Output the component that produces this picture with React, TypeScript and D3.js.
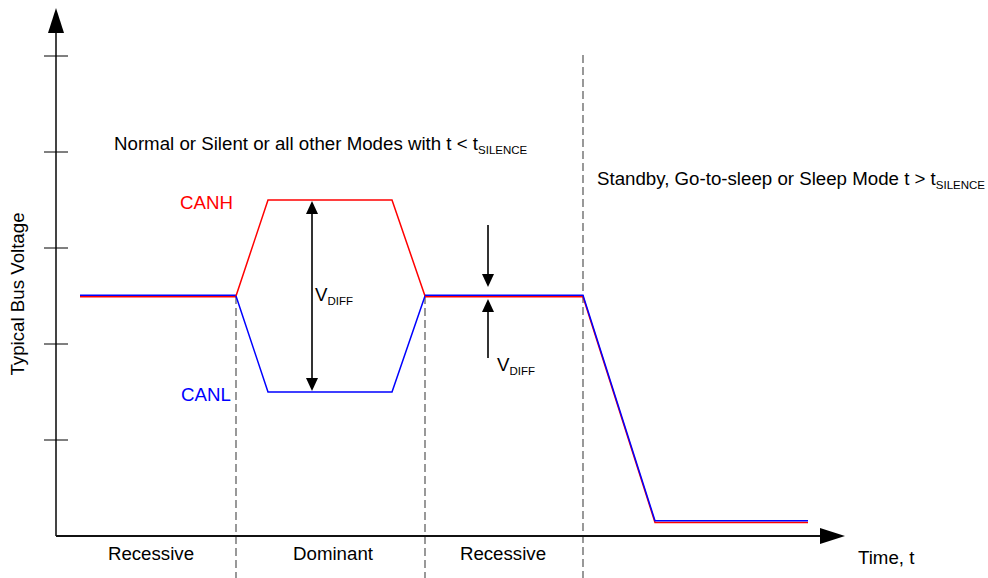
import { useRef, useEffect } from "react";
import * as d3 from "d3";

// time in arbitrary units, voltage in volts
const recessiveLeft = [
  { t: 0.24, v: 2.5 },
  { t: 1.8, v: 2.5 },
];
const canhDominant = [
  { t: 1.8, v: 2.5 },
  { t: 2.12, v: 3.5 },
  { t: 3.36, v: 3.5 },
  { t: 3.69, v: 2.5 },
];
const canlDominant = [
  { t: 1.8, v: 2.5 },
  { t: 2.12, v: 1.5 },
  { t: 3.36, v: 1.5 },
  { t: 3.69, v: 2.5 },
];
const recessiveTail = [
  { t: 3.69, v: 2.5 },
  { t: 5.27, v: 2.5 },
  { t: 5.99, v: 0.15 },
  { t: 7.52, v: 0.15 },
];
const yTicks = [1, 2, 3, 4, 5];
const boundaries = [1.8, 3.69, 5.27];
const phaseLabels = [
  { name: "Recessive", t: 0.95 },
  { name: "Dominant", t: 2.77 },
  { name: "Recessive", t: 4.47 },
];

const App = () => {
  const svgRef = useRef(null);

  useEffect(() => {
    document.body.style.margin = "0";
    const svg = d3.select(svgRef.current);
    svg.selectAll("*").remove();

    const width = 988;
    const height = 578;
    const font = "'Liberation Sans', Arial, sans-serif";
    const fs = 18.7;

    const x = d3.scaleLinear().domain([0, 7.89]).range([56, 845]);
    const y = d3.scaleLinear().domain([0, 5]).range([536, 56]);

    svg.attr("width", width).attr("height", height);

    // dashed phase boundaries
    boundaries.forEach((b, i) => {
      svg
        .append("line")
        .attr("x1", x(b))
        .attr("x2", x(b))
        .attr("y1", i === 2 ? 55 : y(2.5))
        .attr("y2", height)
        .attr("stroke", "#555")
        .attr("stroke-width", 1.2)
        .attr("stroke-dasharray", "8,4");
    });

    // y axis
    svg
      .append("line")
      .attr("x1", x(0))
      .attr("x2", x(0))
      .attr("y1", 30)
      .attr("y2", y(0))
      .attr("stroke", "#444")
      .attr("stroke-width", 2);
    svg
      .append("path")
      .attr("d", `M${x(0)},8 L${x(0) - 8},33 L${x(0) + 8},33 Z`)
      .attr("fill", "#000");
    svg
      .selectAll(".ytick")
      .data(yTicks)
      .enter()
      .append("line")
      .attr("x1", x(0) - 12)
      .attr("x2", x(0) + 12)
      .attr("y1", (d) => y(d))
      .attr("y2", (d) => y(d))
      .attr("stroke", "#000")
      .attr("stroke-width", 1);

    // x axis
    svg
      .append("line")
      .attr("x1", x(0))
      .attr("x2", 822)
      .attr("y1", y(0))
      .attr("y2", y(0))
      .attr("stroke", "#111")
      .attr("stroke-width", 2);
    svg
      .append("path")
      .attr("d", `M${x(7.89)},${y(0)} L${x(7.89) - 25},${y(0) - 8} L${x(7.89) - 25},${y(0) + 8} Z`)
      .attr("fill", "#000");

    const line = d3
      .line()
      .x((d) => x(d.t))
      .y((d) => y(d.v));

    const drawSig = (pts, color, dy) => {
      svg
        .append("path")
        .attr("d", line(pts))
        .attr("transform", `translate(0,${dy})`)
        .attr("fill", "none")
        .attr("stroke", color)
        .attr("stroke-width", 1.5)
        .attr("stroke-linejoin", "miter");
    };
    drawSig(recessiveLeft, "#ff0000", 0.8);
    drawSig(recessiveLeft, "#0000ff", -0.8);
    drawSig(canhDominant, "#ff0000", 0);
    drawSig(canlDominant, "#0000ff", 0);
    drawSig(recessiveTail, "#ff0000", 0.8);
    drawSig(recessiveTail, "#0000ff", -0.8);

    // arrows
    const ah = 13;
    const aw = 6;
    const arrowHead = (ax, tipY, dir) =>
      svg
        .append("path")
        .attr(
          "d",
          `M${ax},${tipY} L${ax - aw},${tipY + dir * ah} L${ax + aw},${tipY + dir * ah} Z`
        )
        .attr("fill", "#000");
    const vline = (ax, y1, y2) =>
      svg
        .append("line")
        .attr("x1", ax)
        .attr("x2", ax)
        .attr("y1", y1)
        .attr("y2", y2)
        .attr("stroke", "#333")
        .attr("stroke-width", 2);

    const ax1 = 312;
    vline(ax1, y(3.5) + ah, y(1.5) - ah);
    arrowHead(ax1, y(3.5) + 1, 1);
    arrowHead(ax1, y(1.5) - 1, -1);

    const ax2 = 488;
    vline(ax2, 225, y(2.5) - 14);
    arrowHead(ax2, y(2.5) - 9, -1);
    vline(ax2, y(2.5) + 14, 358);
    arrowHead(ax2, y(2.5) + 3, 1);

    const subText = (tx, ty, main, sub, color) => {
      const t = svg
        .append("text")
        .attr("x", tx)
        .attr("y", ty)
        .attr("font-family", font)
        .attr("font-size", fs)
        .attr("fill", color);
      t.append("tspan").text(main);
      t.append("tspan")
        .attr("font-size", 11.5)
        .attr("dy", 4)
        .text(sub);
      return t;
    };

    subText(315, 301, "V", "DIFF", "#000");
    subText(497, 371, "V", "DIFF", "#000");
    subText(114, 150, "Normal or Silent or all other Modes with t < t", "SILENCE", "#000");
    subText(597, 185, "Standby, Go-to-sleep or Sleep Mode t > t", "SILENCE", "#000");

    svg
      .append("text")
      .attr("x", 180)
      .attr("y", 209)
      .attr("font-family", font)
      .attr("font-size", fs)
      .attr("fill", "#ff0000")
      .text("CANH");
    svg
      .append("text")
      .attr("x", 181)
      .attr("y", 401)
      .attr("font-family", font)
      .attr("font-size", fs)
      .attr("fill", "#0000ff")
      .text("CANL");

    svg
      .selectAll(".phase")
      .data(phaseLabels)
      .enter()
      .append("text")
      .attr("x", (d) => x(d.t))
      .attr("y", 560)
      .attr("text-anchor", "middle")
      .attr("font-family", font)
      .attr("font-size", fs)
      .attr("fill", "#000")
      .text((d) => d.name);

    svg
      .append("text")
      .attr("x", 858)
      .attr("y", 564)
      .attr("font-family", font)
      .attr("font-size", fs)
      .attr("fill", "#000")
      .text("Time, t");

    svg
      .append("text")
      .attr("transform", `translate(24,294) rotate(-90)`)
      .attr("text-anchor", "middle")
      .attr("font-family", font)
      .attr("font-size", fs)
      .attr("fill", "#000")
      .text("Typical Bus Voltage");
  }, []);

  return <svg ref={svgRef}></svg>;
};

export default App;
